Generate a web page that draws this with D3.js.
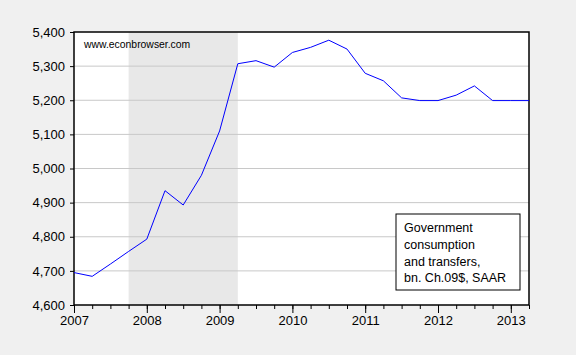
<!DOCTYPE html>
<html>
<head>
<meta charset="utf-8">
<script src="https://cdn.jsdelivr.net/npm/d3@7"></script>
<style>
    body { margin: 0; background: #f0f0f0; }
    text { font-family: Arial, "Liberation Sans", sans-serif; }
</style>
</head>
<body>
<div id="chart-div"></div>
<script>

// quarterly data, 2007Q1 ... 2013Q2
let quarters = d3.range(26).map(i => 2007 + i / 4);
let spending = [4695, 4684, 4720, 4757, 4793, 4935, 4893, 4980, 5110, 5307,
    5316, 5297, 5340, 5355, 5376, 5350, 5279, 5257, 5207, 5199,
    5199, 5215, 5242, 5199, 5199, 5199];

let yTicks = [4600, 4700, 4800, 4900, 5000, 5100, 5200, 5300, 5400];
let xTicks = [2007, 2008, 2009, 2010, 2011, 2012, 2013];
let recession = [2007.75, 2009.25];
let legendLines = ["Government", "consumption", "and transfers,", "bn. Ch.09$, SAAR"];

class spendChart {
    constructor() {
        this.parentElement = "chart-div";
        this.initVis();
    }

    initVis() {
        let vis = this;
        vis.margin = {top: 32, right: 47, bottom: 50, left: 74};
        vis.width = 576 - vis.margin.left - vis.margin.right;
        vis.height = 355 - vis.margin.top - vis.margin.bottom;

        vis.svg = d3.select("#" + vis.parentElement)
            .append("svg")
            .attr("width", 576)
            .attr("height", 355);

        vis.g = vis.svg.append("g")
            .attr("transform", `translate(${vis.margin.left}, ${vis.margin.top})`);

        vis.x = d3.scaleLinear()
            .domain([2007, 2013.25])
            .range([0, vis.width]);

        vis.y = d3.scaleLinear()
            .domain([4600, 5400])
            .range([vis.height, 0]);

        vis.updateVis();
    }

    updateVis() {
        let vis = this;

        // plot background
        vis.g.append("rect")
            .attr("width", vis.width)
            .attr("height", vis.height)
            .attr("fill", "white");

        // recession shading
        vis.g.append("rect")
            .attr("x", vis.x(recession[0]))
            .attr("y", 0)
            .attr("width", vis.x(recession[1]) - vis.x(recession[0]))
            .attr("height", vis.height)
            .attr("fill", "#e8e8e8");

        // gridlines
        vis.g.selectAll(".grid")
            .data(yTicks.slice(1, -1))
            .enter()
            .append("line")
            .attr("x1", 0)
            .attr("x2", vis.width)
            .attr("y1", d => vis.y(d))
            .attr("y2", d => vis.y(d))
            .attr("stroke", "#c8c8c8")
            .attr("stroke-width", 1);

        // y axis
        let yAxis = d3.axisLeft(vis.y)
            .tickValues(yTicks)
            .tickFormat(d3.format(","))
            .tickSize(4)
            .tickPadding(5);
        vis.g.append("g")
            .call(yAxis)
            .call(g => g.select(".domain").remove())
            .selectAll("text")
            .attr("font-size", 13)
            .attr("fill", "#000");

        // x axis minor ticks (quarters)
        let xMinor = d3.axisBottom(vis.x)
            .tickValues(d3.range(25).map(i => 2007 + i / 4 + 0.25))
            .tickSize(4)
            .tickFormat("");
        vis.g.append("g")
            .attr("transform", `translate(0, ${vis.height})`)
            .call(xMinor)
            .call(g => g.select(".domain").remove());

        // x axis major ticks
        let xAxis = d3.axisBottom(vis.x)
            .tickValues(xTicks)
            .tickFormat(d3.format("d"))
            .tickSize(8)
            .tickPadding(3);
        vis.g.append("g")
            .attr("transform", `translate(0, ${vis.height})`)
            .call(xAxis)
            .call(g => g.select(".domain").remove())
            .selectAll("text")
            .attr("font-size", 13)
            .attr("fill", "#000");

        // frame
        vis.g.append("rect")
            .attr("width", vis.width)
            .attr("height", vis.height)
            .attr("fill", "none")
            .attr("stroke", "black")
            .attr("stroke-width", 1.5);

        // data line
        let line = d3.line()
            .x((d, i) => vis.x(quarters[i]))
            .y(d => vis.y(d));
        vis.g.append("path")
            .datum(spending)
            .attr("d", line)
            .attr("fill", "none")
            .attr("stroke", "#0000ff")
            .attr("stroke-width", 1);

        // watermark
        vis.g.append("text")
            .attr("x", 10)
            .attr("y", 16)
            .text("www.econbrowser.com")
            .attr("font-size", 10.4)
            .attr("fill", "#000");

        // legend box
        vis.legend = vis.g.append("g")
            .attr("transform", `translate(${396 - vis.margin.left}, ${214 - vis.margin.top})`);

        vis.legend.append("rect")
            .attr("width", 124)
            .attr("height", 76)
            .attr("fill", "white")
            .attr("stroke", "black")
            .attr("stroke-width", 1);

        vis.legend.selectAll(".leg-text")
            .data(legendLines)
            .enter()
            .append("text")
            .attr("x", 8)
            .attr("y", (d, i) => 18 + i * 16.8)
            .text(d => d)
            .attr("font-size", 12.5)
            .attr("fill", "#000");
    }
}

new spendChart();

</script>
</body>
</html>
